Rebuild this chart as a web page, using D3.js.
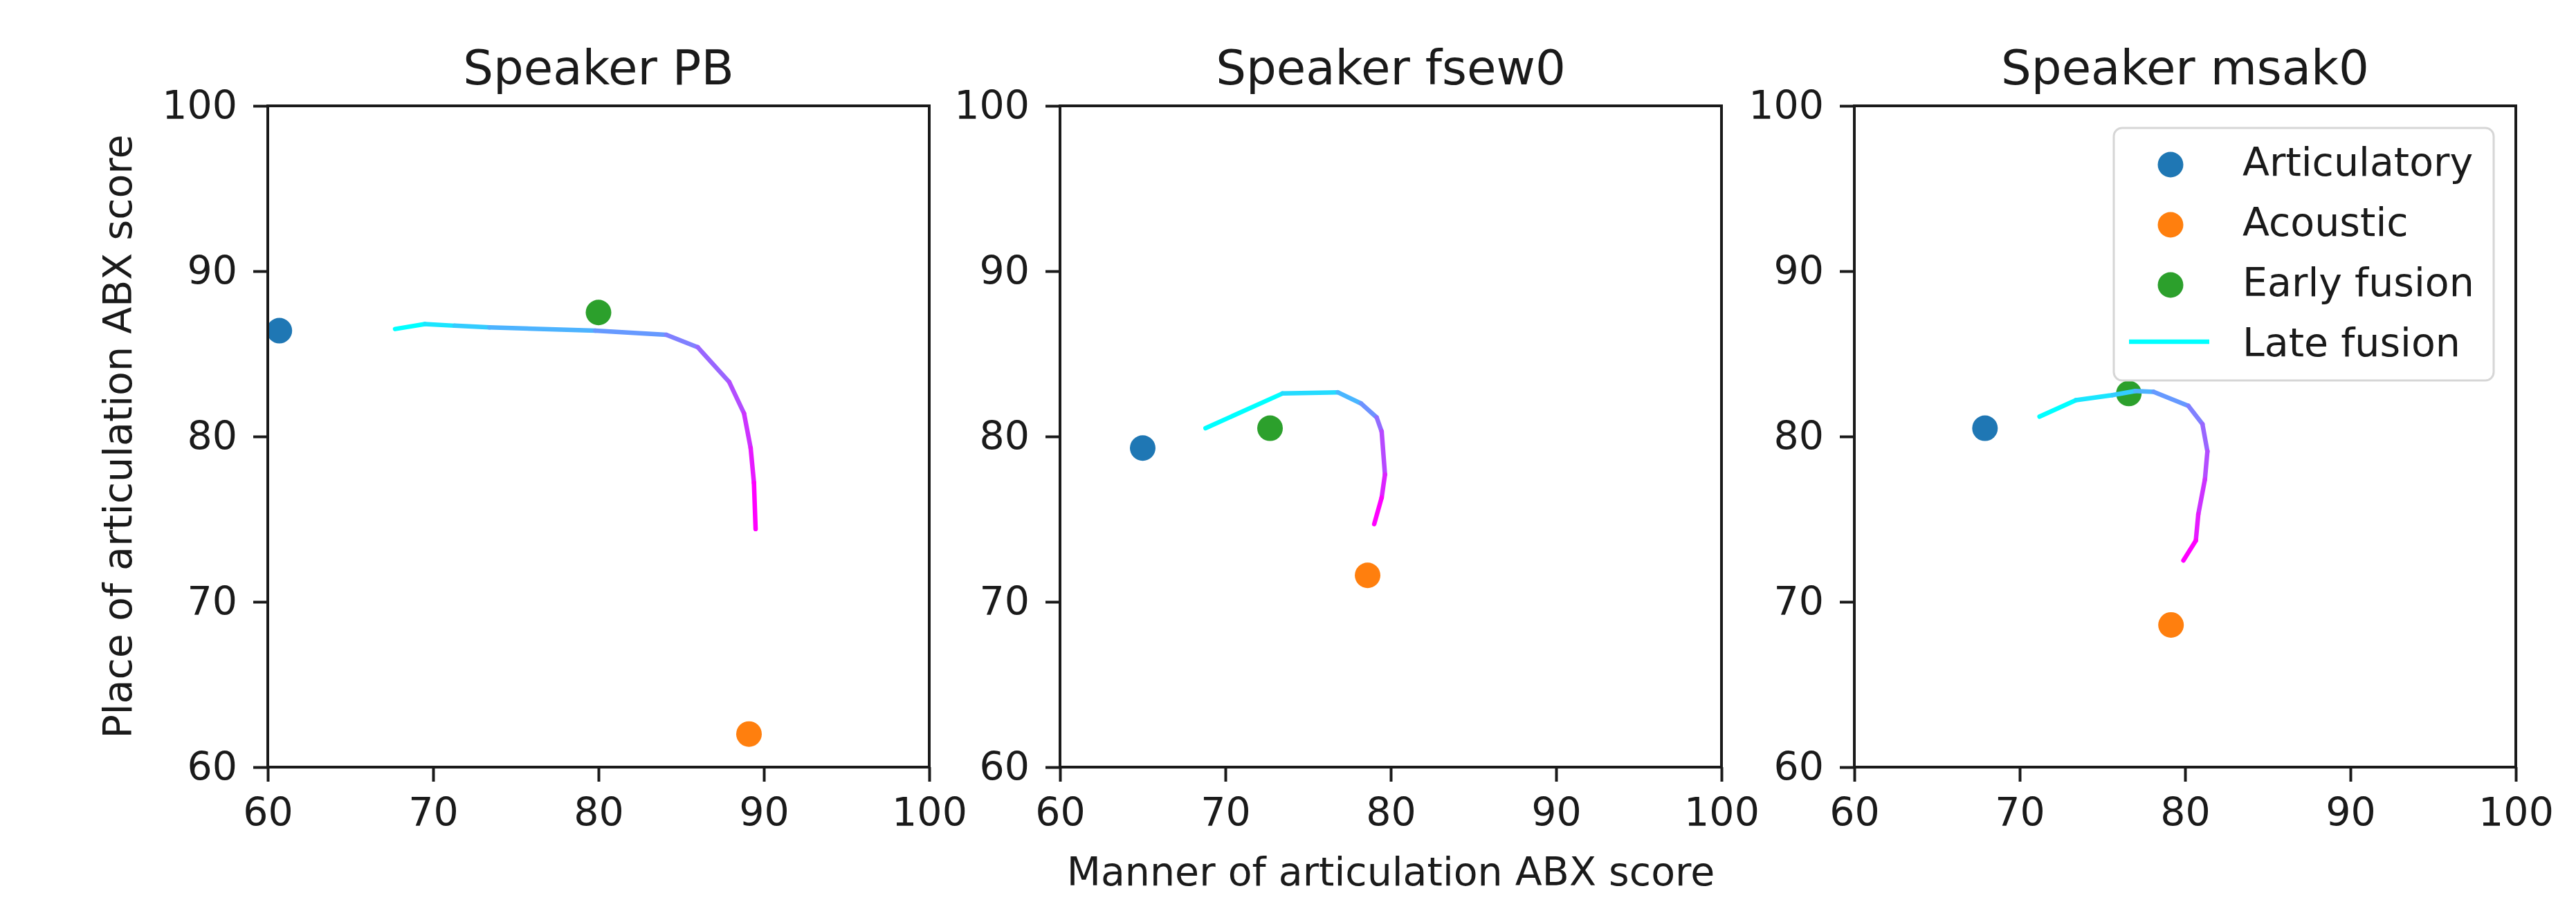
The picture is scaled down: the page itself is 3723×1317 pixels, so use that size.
<!DOCTYPE html>
<html>
<head>
<meta charset="utf-8">
<script src="https://cdn.jsdelivr.net/npm/d3@7"></script>
<style>
  body { margin: 0; background: #fff; }
  svg { display: block; font-family: "DejaVu Sans", sans-serif; }
  .axis text { font-size: 57px; fill: #1a1a1a; }
  .axis path, .axis line { stroke: #1a1a1a; stroke-width: 4; }
</style>
</head>
<body>
<svg id="chart"></svg>
<script>
// data (manner score, place score)
const speakers = ["PB", "fsew0", "msak0"];
const articulatory = [[60.7, 86.4], [65.0, 79.3], [67.9, 80.5]];
const acoustic = [[89.1, 62.0], [78.6, 71.6], [79.15, 68.6]];
const earlyFusion = [[80.0, 87.5], [72.7, 80.5], [76.6, 82.6]];
const lateFusion = [
  [[67.7, 86.5], [69.5, 86.8], [71.3, 86.7], [73.4, 86.6], [79.8, 86.4], [84.1, 86.15],
   [86.0, 85.4], [87.9, 83.3], [88.8, 81.4], [89.2, 79.3], [89.4, 77.2], [89.5, 74.4]],
  [[68.8, 80.5], [73.45, 82.6], [76.8, 82.67], [78.2, 82.0], [79.15, 81.15], [79.45, 80.3],
   [79.65, 77.7], [79.45, 76.3], [79.0, 74.7]],
  [[71.2, 81.2], [73.4, 82.2], [75.6, 82.5], [77.0, 82.75], [78.1, 82.7], [80.2, 81.85],
   [81.05, 80.75], [81.35, 79.1], [81.2, 77.4], [80.8, 75.3], [80.65, 73.7], [79.9, 72.5]]
];
const ticks = [60, 70, 80, 90, 100];
const legendLabels = ["Articulatory", "Acoustic", "Early fusion", "Late fusion"];
const pointColors = ["#1f77b4", "#ff7f0e", "#2ca02c"];

const W = 3723, H = 1317;
const panelLeft = [387, 1532, 2680];
const size = 956, panelTop = 153;

const svg = d3.select("#chart").attr("width", W).attr("height", H);
const cool = d3.interpolateRgb("#00ffff", "#ff00ff");

speakers.forEach((sp, i) => {
  const g = svg.append("g").attr("transform", `translate(${panelLeft[i]},${panelTop})`);
  const x = d3.scaleLinear().domain([60, 100]).range([0, size]);
  const y = d3.scaleLinear().domain([60, 100]).range([size, 0]);

  // axes
  g.append("g").attr("class", "axis")
    .attr("transform", `translate(0,${size})`)
    .call(d3.axisBottom(x).tickValues(ticks).tickSize(21).tickPadding(24).tickSizeOuter(0))
    .select(".domain").remove();
  g.append("g").attr("class", "axis")
    .call(d3.axisLeft(y).tickValues(ticks).tickSize(21).tickPadding(23).tickSizeOuter(0))
    .select(".domain").remove();
  g.selectAll(".axis").attr("font-family", null).attr("font-size", null);

  // points
  [articulatory, acoustic, earlyFusion].forEach((series, s) => {
    g.append("circle")
      .attr("cx", x(series[i][0])).attr("cy", y(series[i][1]))
      .attr("r", 18.5)
      .attr("fill", pointColors[s]);
  });

  // late fusion: segments coloured along the path (cool colormap), drawn over the dots
  const pts = lateFusion[i];
  for (let k = 0; k < pts.length - 1; k++) {
    g.append("line")
      .attr("x1", x(pts[k][0])).attr("y1", y(pts[k][1]))
      .attr("x2", x(pts[k + 1][0])).attr("y2", y(pts[k + 1][1]))
      .attr("stroke", cool(k / (pts.length - 2)))
      .attr("stroke-width", 6.5)
      .attr("stroke-linecap", "round");
  }

  // frame
  g.append("rect").attr("width", size).attr("height", size)
    .attr("fill", "none").attr("stroke", "#1a1a1a").attr("stroke-width", 4);

  // title
  svg.append("text")
    .attr("x", panelLeft[i] + size / 2).attr("y", 122)
    .attr("text-anchor", "middle")
    .attr("font-size", 69).attr("fill", "#1a1a1a")
    .text("Speaker " + sp);

  // legend only on the last panel
  if (i === 2) {
    const lg = svg.append("g").attr("transform", "translate(3055,185)");
    lg.append("rect").attr("width", 549).attr("height", 365).attr("rx", 12)
      .attr("fill", "#fff").attr("fill-opacity", 0.8)
      .attr("stroke", "#d6d6d6").attr("stroke-width", 3);
    legendLabels.forEach((lab, r) => {
      const cy = 48 + r * 87;
      if (r < 3) {
        lg.append("circle").attr("cx", 82).attr("cy", cy + 5).attr("r", 18.5).attr("fill", pointColors[r]);
      } else {
        lg.append("line").attr("x1", 22).attr("x2", 138).attr("y1", cy).attr("y2", cy)
          .attr("stroke", cool(0)).attr("stroke-width", 6.5);
      }
      lg.append("text").attr("x", 186).attr("y", cy).attr("dy", "0.36em")
        .attr("font-size", 57).attr("fill", "#1a1a1a").text(lab);
    });
  }
});

// shared axis labels
svg.append("text")
  .attr("x", panelLeft[1] + size / 2).attr("y", 1280)
  .attr("text-anchor", "middle").attr("font-size", 57).attr("fill", "#1a1a1a")
  .text("Manner of articulation ABX score");
svg.append("text")
  .attr("transform", `translate(190,${panelTop + size / 2}) rotate(-90)`)
  .attr("text-anchor", "middle").attr("font-size", 57).attr("fill", "#1a1a1a")
  .text("Place of articulation ABX score");
</script>
</body>
</html>
